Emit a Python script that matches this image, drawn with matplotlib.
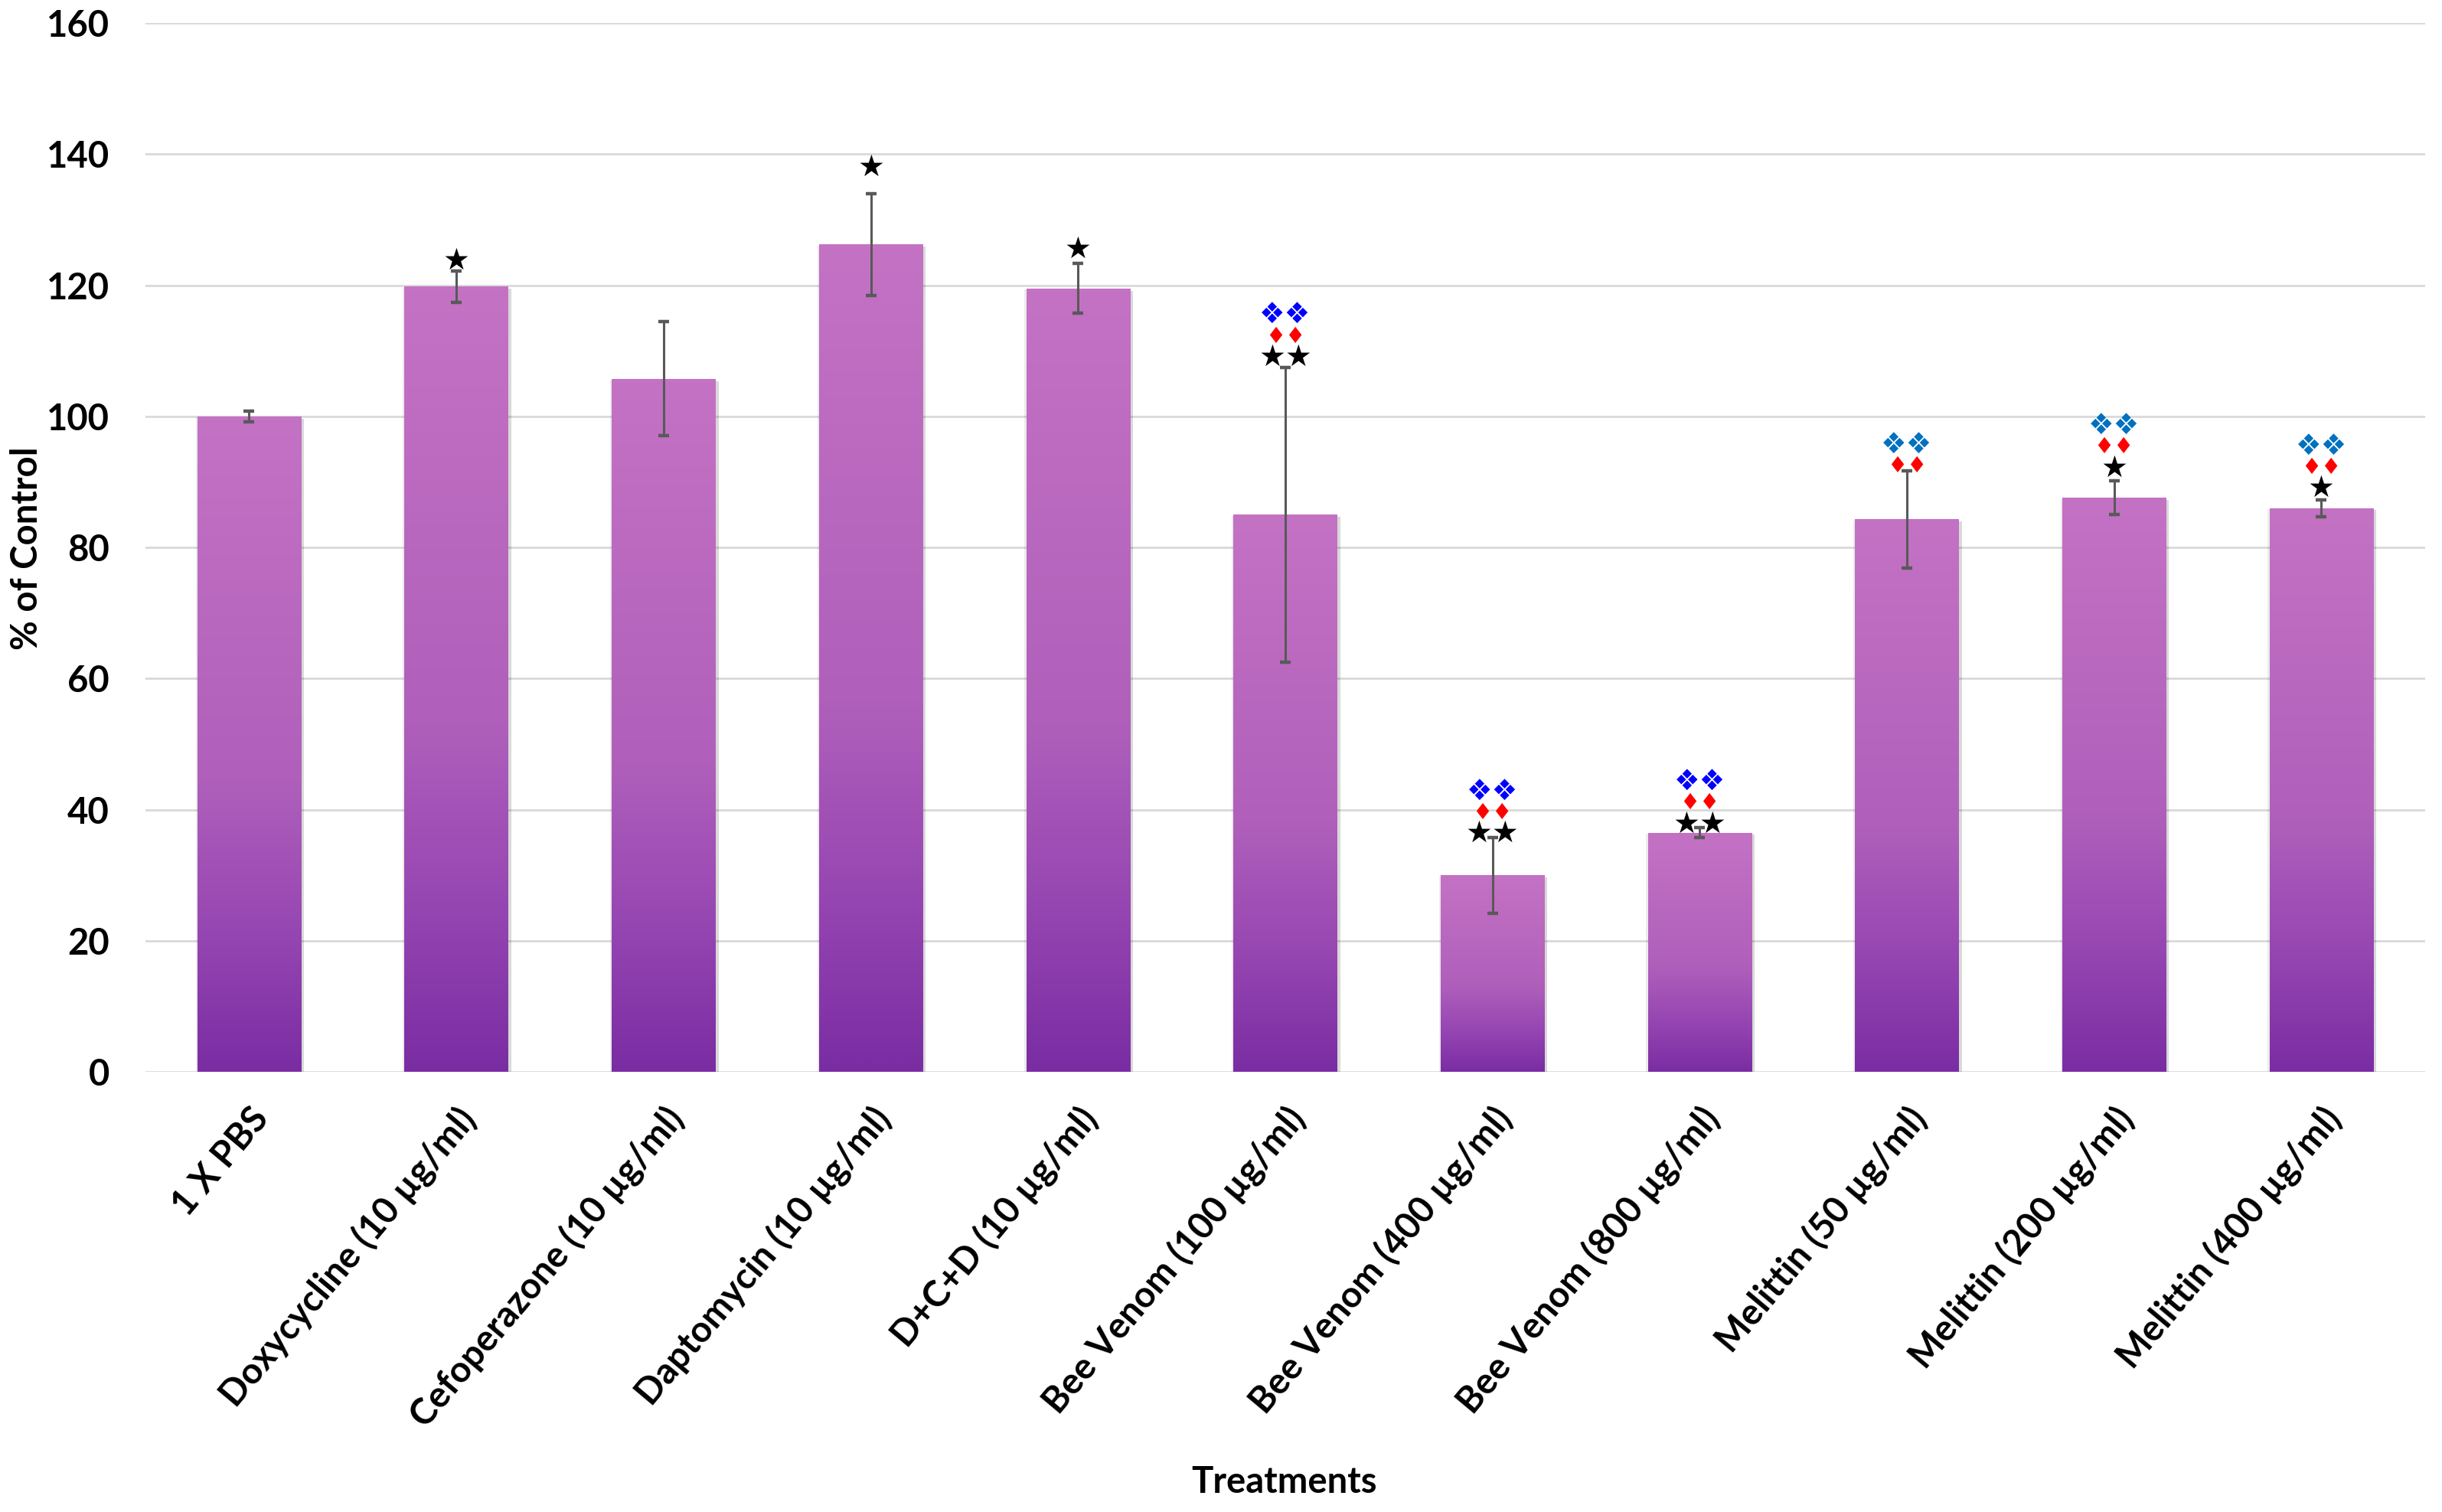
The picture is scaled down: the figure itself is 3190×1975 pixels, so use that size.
import numpy as np
import matplotlib
matplotlib.use("Agg")
import matplotlib.pyplot as plt
from matplotlib.colors import LinearSegmentedColormap
import matplotlib.patheffects as pe

# ---------------- data ----------------
categories = ["1 X PBS", "Doxycycline (10 µg/ml)", "Cefoperazone (10 µg/ml)",
              "Daptomycin (10 µg/ml)", "D+C+D (10 µg/ml)", "Bee Venom (100 µg/ml)",
              "Bee Venom (400 µg/ml)", "Bee Venom (800 µg/ml)", "Melittin (50 µg/ml)",
              "Melittin (200 µg/ml)", "Melittin (400 µg/ml)"]
values = [100.0, 119.8, 105.7, 126.2, 119.5, 85.0, 30.0, 36.5, 84.3, 87.6, 86.0]
errors = [0.8, 2.4, 8.7, 7.8, 3.8, 22.5, 5.8, 0.8, 7.4, 2.6, 1.3]
# significance marks, rows from bottom to top: (text, colour)
marks = [
    [],
    [("★", "black")],
    [],
    [("★", "black")],
    [("★", "black")],
    [("★★", "black"), ("♦♦", "#FF0000"), ("❖❖", "#0000FF")],
    [("★★", "black"), ("♦♦", "#FF0000"), ("❖❖", "#0000FF")],
    [("★★", "black"), ("♦♦", "#FF0000"), ("❖❖", "#0000FF")],
    [("♦♦", "#FF0000"), ("❖❖", "#0070C0")],
    [("★", "black"), ("♦♦", "#FF0000"), ("❖❖", "#0070C0")],
    [("★", "black"), ("♦♦", "#FF0000"), ("❖❖", "#0070C0")],
]
mark_gap = [0, 1.5, 0, 4.0, 2.2, 1.5, 0.5, 0.5, 0.7, 1.9, 1.7]
yticks = [0, 20, 40, 60, 80, 100, 120, 140, 160]

# ---------------- figure ----------------
plt.rcParams['font.family'] = ['Lato', 'DejaVu Sans']
fig = plt.figure(figsize=(15.95, 9.875), dpi=200)
ax = fig.add_axes([0.0596, 0.2911, 0.9334, 0.6937])

x = np.arange(len(categories))
width = 0.5
cmap = LinearSegmentedColormap.from_list(
    "grad", [(0.0, "#7A2DA3"), (0.2, "#9545B1"), (0.45, "#B060BB"), (1.0, "#C472C4")])
grad = np.linspace(0, 1, 256).reshape(-1, 1)

bars = ax.bar(x, values, width=width, color="#B463BD", zorder=2,
              path_effects=[pe.SimplePatchShadow(offset=(1.5, -1.0), shadow_rgbFace="#000000", alpha=0.15),
                            pe.SimplePatchShadow(offset=(-0.8, -0.6), shadow_rgbFace="#000000", alpha=0.08),
                            pe.Normal()])
for b in bars:
    x0, y0 = b.get_x(), b.get_y()
    w, h = b.get_width(), b.get_height()
    im = ax.imshow(grad, cmap=cmap, origin="lower", aspect="auto",
                   extent=[x0, x0 + w, y0, y0 + h], zorder=3, interpolation="bilinear")
    im.set_clip_path(b)

ax.errorbar(x, values, yerr=errors, fmt="none", ecolor="#595959", elinewidth=1.1,
            capsize=2.6, capthick=1.6, zorder=4)

# significance marks
for i, rows in enumerate(marks):
    base = values[i] + errors[i] + mark_gap[i]
    for r, (txt, col) in enumerate(rows):
        fs = 14 if txt.startswith("★") else (10.5 if txt.startswith("♦") else 13.5)
        ax.annotate(txt, xy=(x[i], base), xytext=(0, r * 9.8), textcoords="offset points",
                    ha="center", va="center", color=col, fontsize=fs,
                    family="DejaVu Sans", zorder=5)

ax.set_xlim(-0.5, len(categories) - 0.5)
ax.set_ylim(0, 160)
ax.set_yticks(yticks)
ax.yaxis.grid(True, color="#D9D9D9", linewidth=1.0, zorder=0)
ax.set_axisbelow(True)
for s in ax.spines.values():
    s.set_visible(False)
ax.tick_params(axis="both", length=0)
ax.tick_params(axis="y", pad=17)
ax.set_yticklabels([str(t) for t in yticks], fontsize=17, fontweight="bold")
ax.set_xticks(x)
ax.set_xticklabels(categories, rotation=50, ha="right", rotation_mode="anchor",
                   fontsize=17, fontweight="bold")
ax.tick_params(axis="x", pad=14)

fig.text(0.011, 0.6375, "% of Control", rotation=90, ha="center", va="center",
         fontsize=17, fontweight="bold")
fig.text(0.5258, 0.02, "Treatments", ha="center", va="center",
         fontsize=17, fontweight="bold")

fig.savefig("out.png", dpi=200)
